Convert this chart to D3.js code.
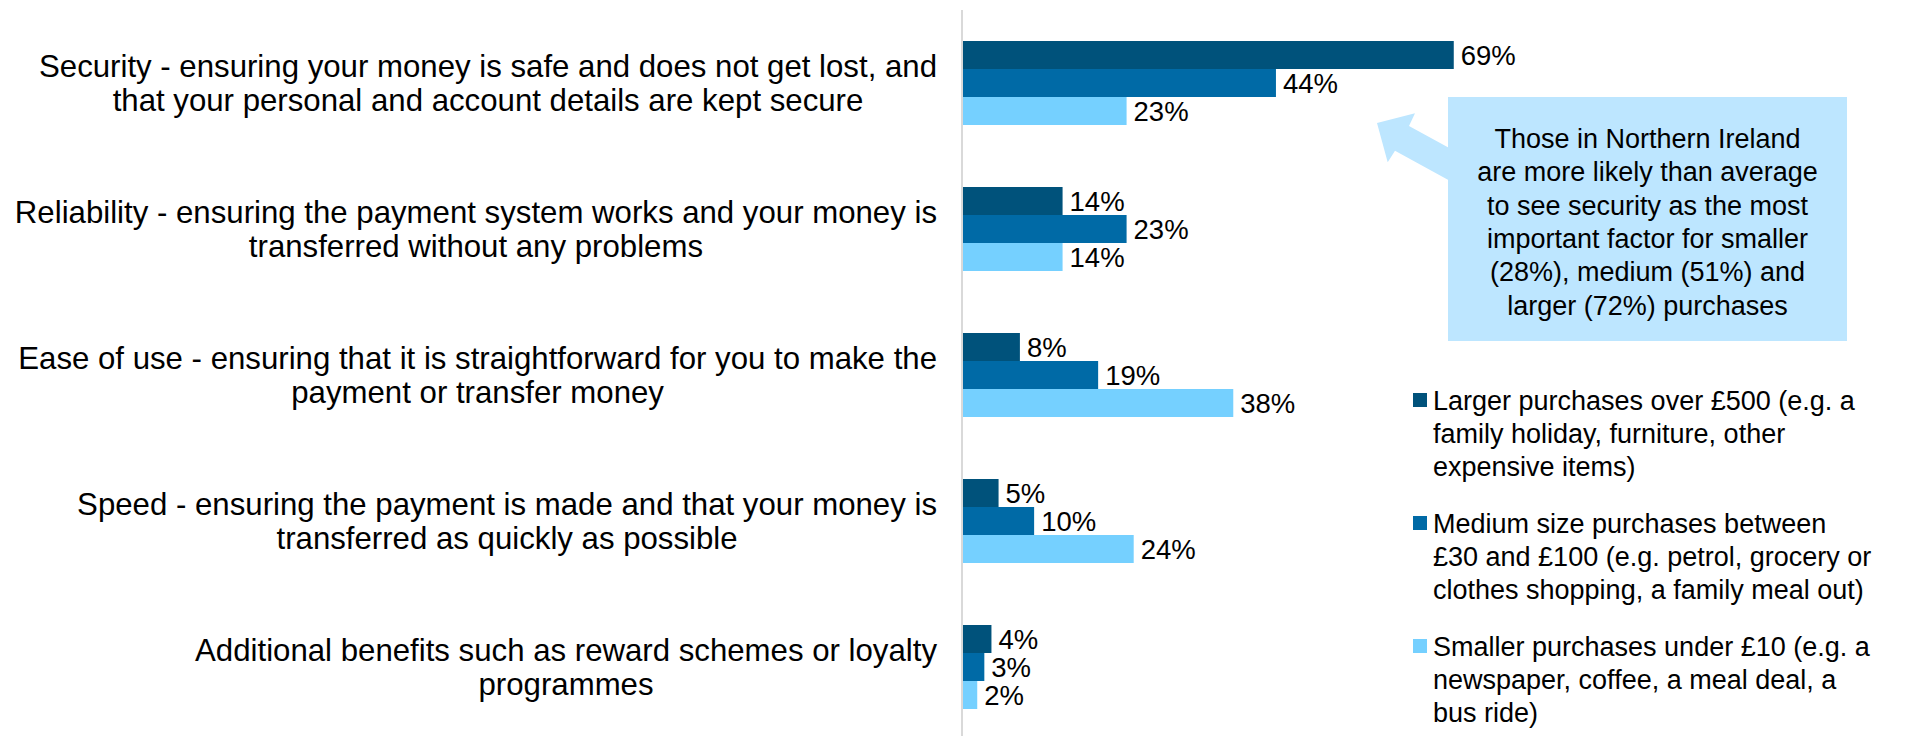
<!DOCTYPE html>
<html>
<head>
<meta charset="utf-8">
<script src="https://cdn.jsdelivr.net/npm/d3@7"></script>
<style>
  html, body { margin: 0; padding: 0; background: #ffffff; }
  svg text { font-family: "Liberation Sans", Arial, sans-serif; fill: #000000; }
</style>
</head>
<body>
<svg id="chart" width="1915" height="736"></svg>
<script>
// Importance of payment factors, by purchase size
const categories = [
  ["Security - ensuring your money is safe and does not get lost, and", "that your personal and account details are kept secure"],
  ["Reliability - ensuring the payment system works and your money is", "transferred without any problems"],
  ["Ease of use - ensuring that it is straightforward for you to make the", "payment or transfer money"],
  ["Speed - ensuring the payment is made and that your money is", "transferred as quickly as possible"],
  ["Additional benefits such as reward schemes or loyalty", "programmes"]
];
const seriesNames = ["Larger", "Medium", "Smaller"];
const larger  = [69, 14, 8, 5, 4];
const medium  = [44, 23, 19, 10, 3];
const smaller = [23, 14, 38, 24, 2];
const seriesValues = [larger, medium, smaller];

const legendLabels = [
  ["Larger purchases over £500 (e.g. a", "family holiday, furniture, other", "expensive items)"],
  ["Medium size purchases between", "£30 and £100 (e.g. petrol, grocery or", "clothes shopping, a family meal out)"],
  ["Smaller purchases under £10 (e.g. a", "newspaper, coffee, a meal deal, a", "bus ride)"]
];
const calloutLines = [
  "Those in Northern Ireland",
  "are more likely than average",
  "to see security as the most",
  "important factor for smaller",
  "(28%), medium (51%) and",
  "larger (72%) purchases"
];

const colors = ["#00527b", "#006aa6", "#75d0ff"];

const svg = d3.select("#chart");
const catKeys = categories.map((c, i) => "c" + i);

// Scales
const x = d3.scaleLinear().domain([0, 80]).range([963, 1532]);
const y = d3.scaleBand().domain(catKeys).range([10, 740])
  .paddingInner(62 / 146).paddingOuter(31 / 146);
const ySub = d3.scaleBand().domain(seriesNames).range([0, y.bandwidth()]);

// Bars
const groups = svg.append("g").selectAll("g")
  .data(catKeys)
  .join("g")
  .attr("transform", d => `translate(0,${y(d)})`);

groups.each(function (key, ci) {
  const g = d3.select(this);
  const rows = seriesNames.map((s, si) => ({ s, si, v: seriesValues[si][ci] }));
  g.selectAll("rect")
    .data(rows)
    .join("rect")
    .attr("x", x(0))
    .attr("y", d => ySub(d.s))
    .attr("width", d => x(d.v) - x(0))
    .attr("height", ySub.bandwidth())
    .attr("fill", d => colors[d.si]);
  g.selectAll("text.val")
    .data(rows)
    .join("text")
    .attr("class", "val")
    .attr("x", d => x(d.v) + 7)
    .attr("y", d => ySub(d.s) + ySub.bandwidth() / 2)
    .attr("dy", "0.36em")
    .style("font-size", "27.5px")
    .text(d => d.v + "%");
});

// Vertical axis line
svg.append("line")
  .attr("x1", x(0) - 1).attr("x2", x(0) - 1)
  .attr("y1", 10).attr("y2", 736)
  .attr("stroke", "#d9d9d9").attr("stroke-width", 2);

// Category labels: block right-aligned against the axis, lines centred in block
const labelRight = x(0) - 26;
const lineH = 34;
const labelG = svg.append("g");
categories.forEach((lines, ci) => {
  const t = labelG.append("g");
  const texts = lines.map(l => t.append("text").style("font-size", "31.2px").text(l));
  const maxW = d3.max(texts, n => n.node().getComputedTextLength());
  const cx = labelRight - maxW / 2;
  const cy = y(catKeys[ci]) + y.bandwidth() / 2;
  texts.forEach((n, li) => {
    n.attr("x", cx)
      .attr("y", cy + (li - (lines.length - 1) / 2) * lineH)
      .attr("dy", "0.36em")
      .attr("text-anchor", "middle");
  });
});

// Legend
const legend = svg.append("g").attr("transform", "translate(1413,400)");
legendLabels.forEach((lines, i) => {
  const g = legend.append("g").attr("transform", `translate(0,${i * 123})`);
  g.append("rect").attr("x", 0).attr("y", -7).attr("width", 14).attr("height", 14)
    .attr("fill", colors[i]);
  lines.forEach((l, li) => {
    g.append("text")
      .attr("x", 20)
      .attr("y", li * 33)
      .attr("dy", "0.36em")
      .style("font-size", "27px")
      .text(l);
  });
});

// Callout box with block arrow pointing at the Security bars
const callout = svg.append("g");
const boxX = 1448, boxY = 97, boxW = 399, boxH = 244;
const calloutFill = "#bde6ff";
callout.append("polygon")
  .attr("points", [
    [1377, 123], [1415, 113.3], [1409, 126], [boxX + 4, 149.5],
    [boxX + 4, 182], [1395, 150.7], [1387.7, 162.3]
  ].map(p => p.join(",")).join(" "))
  .attr("fill", calloutFill);
callout.append("rect")
  .attr("x", boxX).attr("y", boxY).attr("width", boxW).attr("height", boxH)
  .attr("fill", calloutFill);
calloutLines.forEach((l, i) => {
  callout.append("text")
    .attr("x", boxX + boxW / 2)
    .attr("y", boxY + 41 + i * 33.4)
    .attr("dy", "0.36em")
    .attr("text-anchor", "middle")
    .style("font-size", "27px")
    .text(l);
});
</script>
</body>
</html>
